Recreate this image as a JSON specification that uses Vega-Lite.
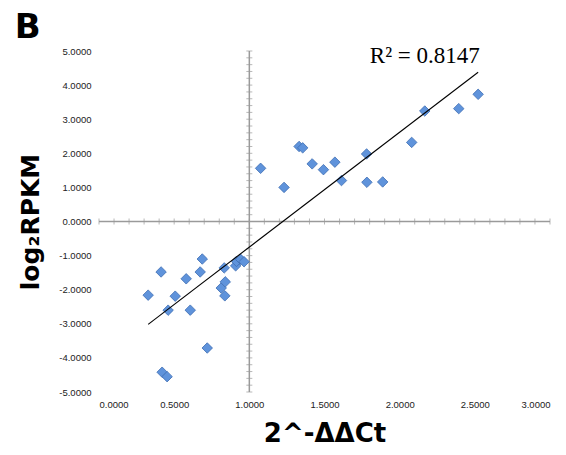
{
  "$schema": "https://vega.github.io/schema/vega-lite/v6.json",
  "width": 451,
  "height": 341,
  "padding": {"left": 14, "top": 10, "right": 4, "bottom": 2},
  "background": "white",
  "title": {"text": "B", "anchor": "start", "frame": "bounds", "font": "DejaVu Sans", "fontSize": 34, "fontWeight": "bold", "color": "black", "offset": 0, "dx": -4},
  "config": {
    "view": {"stroke": null},
    "axis": {"grid": false, "domain": false, "ticks": false, "labelFont": "Liberation Sans", "labelFontSize": 9.5, "labelColor": "#222", "titleFont": "DejaVu Sans", "titleFontWeight": "bold", "titleColor": "black"}
  },
  "datasets": {
    "points": [
      {"x": 0.327, "y": -2.16}, {"x": 0.413, "y": -1.48}, {"x": 0.42, "y": -4.42}, {"x": 0.453, "y": -4.55},
      {"x": 0.46, "y": -2.6}, {"x": 0.507, "y": -2.19}, {"x": 0.58, "y": -1.68}, {"x": 0.607, "y": -2.6},
      {"x": 0.673, "y": -1.48}, {"x": 0.687, "y": -1.1}, {"x": 0.72, "y": -3.71}, {"x": 0.813, "y": -1.95},
      {"x": 0.833, "y": -1.36}, {"x": 0.837, "y": -2.18}, {"x": 0.84, "y": -1.77}, {"x": 0.909, "y": -1.3},
      {"x": 0.915, "y": -1.17}, {"x": 0.942, "y": -1.11}, {"x": 0.965, "y": -1.18},
      {"x": 1.075, "y": 1.56}, {"x": 1.231, "y": 1.0}, {"x": 1.331, "y": 2.2}, {"x": 1.355, "y": 2.16},
      {"x": 1.418, "y": 1.69}, {"x": 1.493, "y": 1.52}, {"x": 1.569, "y": 1.74}, {"x": 1.613, "y": 1.2},
      {"x": 1.78, "y": 1.98}, {"x": 1.782, "y": 1.15}, {"x": 1.887, "y": 1.16}, {"x": 2.08, "y": 2.32},
      {"x": 2.167, "y": 3.24}, {"x": 2.393, "y": 3.31}, {"x": 2.522, "y": 3.73}
    ],
    "xticks": [
      {"x": 0.0, "y": 0}, {"x": 0.1, "y": 0}, {"x": 0.2, "y": 0}, {"x": 0.3, "y": 0}, {"x": 0.4, "y": 0}, {"x": 0.5, "y": 0},
      {"x": 0.6, "y": 0}, {"x": 0.7, "y": 0}, {"x": 0.8, "y": 0}, {"x": 0.9, "y": 0}, {"x": 1.0, "y": 0}, {"x": 1.1, "y": 0},
      {"x": 1.2, "y": 0}, {"x": 1.3, "y": 0}, {"x": 1.4, "y": 0}, {"x": 1.5, "y": 0}, {"x": 1.6, "y": 0}, {"x": 1.7, "y": 0},
      {"x": 1.8, "y": 0}, {"x": 1.9, "y": 0}, {"x": 2.0, "y": 0}, {"x": 2.1, "y": 0}, {"x": 2.2, "y": 0}, {"x": 2.3, "y": 0},
      {"x": 2.4, "y": 0}, {"x": 2.5, "y": 0}, {"x": 2.6, "y": 0}, {"x": 2.7, "y": 0}, {"x": 2.8, "y": 0}, {"x": 2.9, "y": 0}, {"x": 3.0, "y": 0}
    ],
    "yticks": [
      {"x": 1, "y": -5.0}, {"x": 1, "y": -4.8}, {"x": 1, "y": -4.6}, {"x": 1, "y": -4.4}, {"x": 1, "y": -4.2}, {"x": 1, "y": -4.0},
      {"x": 1, "y": -3.8}, {"x": 1, "y": -3.6}, {"x": 1, "y": -3.4}, {"x": 1, "y": -3.2}, {"x": 1, "y": -3.0}, {"x": 1, "y": -2.8},
      {"x": 1, "y": -2.6}, {"x": 1, "y": -2.4}, {"x": 1, "y": -2.2}, {"x": 1, "y": -2.0}, {"x": 1, "y": -1.8}, {"x": 1, "y": -1.6},
      {"x": 1, "y": -1.4}, {"x": 1, "y": -1.2}, {"x": 1, "y": -1.0}, {"x": 1, "y": -0.8}, {"x": 1, "y": -0.6}, {"x": 1, "y": -0.4},
      {"x": 1, "y": -0.2}, {"x": 1, "y": 0.0}, {"x": 1, "y": 0.2}, {"x": 1, "y": 0.4}, {"x": 1, "y": 0.6}, {"x": 1, "y": 0.8},
      {"x": 1, "y": 1.0}, {"x": 1, "y": 1.2}, {"x": 1, "y": 1.4}, {"x": 1, "y": 1.6}, {"x": 1, "y": 1.8}, {"x": 1, "y": 2.0},
      {"x": 1, "y": 2.2}, {"x": 1, "y": 2.4}, {"x": 1, "y": 2.6}, {"x": 1, "y": 2.8}, {"x": 1, "y": 3.0}, {"x": 1, "y": 3.2},
      {"x": 1, "y": 3.4}, {"x": 1, "y": 3.6}, {"x": 1, "y": 3.8}, {"x": 1, "y": 4.0}, {"x": 1, "y": 4.2}, {"x": 1, "y": 4.4},
      {"x": 1, "y": 4.6}, {"x": 1, "y": 4.8}, {"x": 1, "y": 5.0}
    ]
  },
  "encoding": {
    "x": {"field": "x", "type": "quantitative", "scale": {"domain": [0, 3], "nice": false, "zero": false},
      "axis": {"title": "2^-ΔΔCt", "values": [0, 0.5, 1, 1.5, 2, 2.5, 3], "format": ".4f", "labelPadding": 7, "titlePadding": 12, "titleFontSize": 26}},
    "y": {"field": "y", "type": "quantitative", "scale": {"domain": [-5, 5], "nice": false},
      "axis": {"title": "log₂RPKM", "values": [-5, -4, -3, -2, -1, 0, 1, 2, 3, 4, 5], "format": ".4f", "labelExpr": "replace(datum.label, '−', '-')", "labelPadding": 8, "titlePadding": 15, "titleFontSize": 25}}
  },
  "layer": [
    {
      "data": {"values": [{"x": 0, "x2": 3, "y": 0}]},
      "mark": {"type": "rule", "color": "#9a9a9a", "strokeWidth": 1.5},
      "encoding": {"x2": {"field": "x2"}}
    },
    {
      "data": {"values": [{"x": 1, "y": -5, "y2": 5}]},
      "mark": {"type": "rule", "color": "#9a9a9a", "strokeWidth": 1.5},
      "encoding": {"y2": {"field": "y2"}}
    },
    {
      "data": {"name": "xticks"},
      "mark": {"type": "tick", "orient": "vertical", "color": "#9a9a9a", "size": 6, "thickness": 1},
      "encoding": {}
    },
    {
      "data": {"name": "yticks"},
      "mark": {"type": "tick", "orient": "horizontal", "color": "#9a9a9a", "size": 6, "thickness": 1},
      "encoding": {}
    },
    {
      "data": {"name": "points"},
      "mark": {"type": "point", "shape": "diamond", "filled": true, "size": 110, "color": "#5f93db", "stroke": "#3e6db3", "strokeWidth": 0.8, "opacity": 1},
      "encoding": {}
    },
    {
      "data": {"name": "points"},
      "transform": [{"regression": "y", "on": "x"}],
      "mark": {"type": "line", "color": "black", "strokeWidth": 1.1},
      "encoding": {}
    },
    {
      "data": {"values": [{"x": 2.167, "y": 4.65, "label": "R² = 0.8147"}]},
      "mark": {"type": "text", "font": "Liberation Serif", "fontSize": 23, "baseline": "alphabetic", "align": "center", "color": "black"},
      "encoding": {"text": {"field": "label"}}
    }
  ]
}
